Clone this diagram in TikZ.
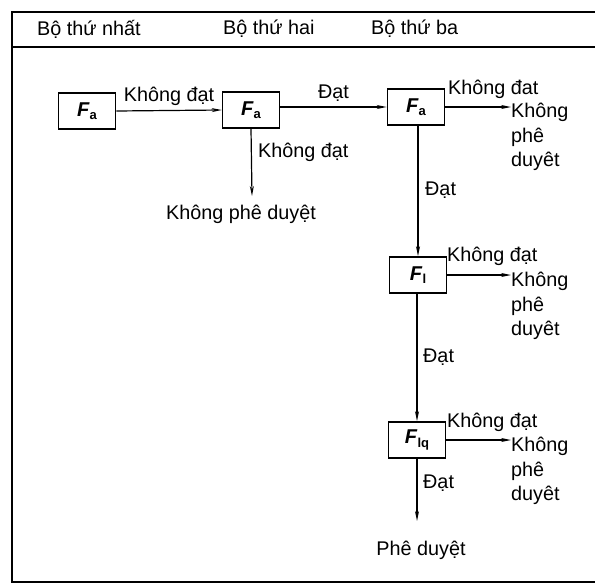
\documentclass[tikz,border=0pt]{standalone}
\usepackage{fontspec}
\setmainfont{Liberation Sans}
\usetikzlibrary{arrows.meta}
\newcommand{\fsub}[1]{\textbf{\textit{F}}\raisebox{-0.3ex}{\fontsize{13}{13}\selectfont\bfseries #1}}
\begin{document}
\begin{tikzpicture}[x=1pt,y=-1pt,
  txt/.style={inner sep=0pt,font=\fontsize{19.8}{24.5}\selectfont},
  fbox/.style={draw,line width=1.6pt,minimum width=57pt,minimum height=36pt,inner sep=0pt,font=\fontsize{20}{20}\selectfont},
  arr/.style={line width=1.2pt,-{Stealth[length=10pt,width=4pt]}},
  frame/.style={line width=2pt}]
\useasboundingbox (0,0) rectangle (595,584);
% frame
\draw[frame] (595,12) -- (12,12) -- (12,582) -- (595,582);
\draw[frame] (12,47) -- (595,47);
\node[txt,anchor=west] (h1) at (37,29) {Bộ thứ nhất};
\node[txt,anchor=west] (h2) at (223,29) {Bộ thứ hai};
\node[txt,anchor=west] (h3) at (371,29) {Bộ thứ ba};
% boxes
\node[fbox] (b1) at (87,111) {\fsub{a}};
\node[fbox] (b2) at (251,110) {\fsub{a}};
\node[fbox] (b3) at (416,107) {\fsub{a}};
\node[fbox] (b4) at (418,275) {\fsub{l}};
\node[fbox] (b5) at (417,440) {\fsub{lq}};
% outcome texts
\node[txt] (r2) at (241,214) {Không phê duyệt};
\node[txt,align=left,anchor=north west] (r3) at (511,103) {Không\\phê\\duyêt};
\node[txt,align=left,anchor=north west] (r4) at (511,272) {Không\\phê\\duyêt};
\node[txt,align=left,anchor=north west] (r5) at (511,437) {Không\\phê\\duyêt};
\node[txt] (ok) at (421,550) {Phê duyệt};
\coordinate (e2) at (252,196);
\coordinate (e5) at (417,521);
% connectors
\draw[arr] (b1.east) -- (b2.west) node[txt,midway,above=4pt] (l12) {Không đạt};
\draw[arr] (b2.east |- b3.west) -- (b3.west) node[txt,midway,above=5pt] (l23) {Đạt};
\draw[arr] (b2.south) -- (e2);
\node[txt,anchor=west] (l2d) at (258,152) {Không đạt};
\draw[arr] (b3.east) -- (b3.east -| r3.west);
\node[txt,anchor=south west] (l3r) at (448,99) {Không đat};
\draw[arr] (b3.south -| b4.north) -- (b4.north);
\node[txt,anchor=west] (l34) at (425,190) {Đạt};
\draw[arr] (b4.east) -- (b4.east -| r4.west);
\node[txt,anchor=south west] (l4r) at (447,266) {Không đạt};
\draw[arr] (b4.south -| b5.north) -- (b5.north);
\node[txt,anchor=west] (l45) at (423,357) {Đạt};
\draw[arr] (b5.east) -- (b5.east -| r5.west);
\node[txt,anchor=south west] (l5r) at (447,432) {Không đạt};
\draw[arr] (b5.south) -- (e5);
\node[txt,anchor=west] (l5d) at (423,483) {Đạt};
\end{tikzpicture}
\end{document}
